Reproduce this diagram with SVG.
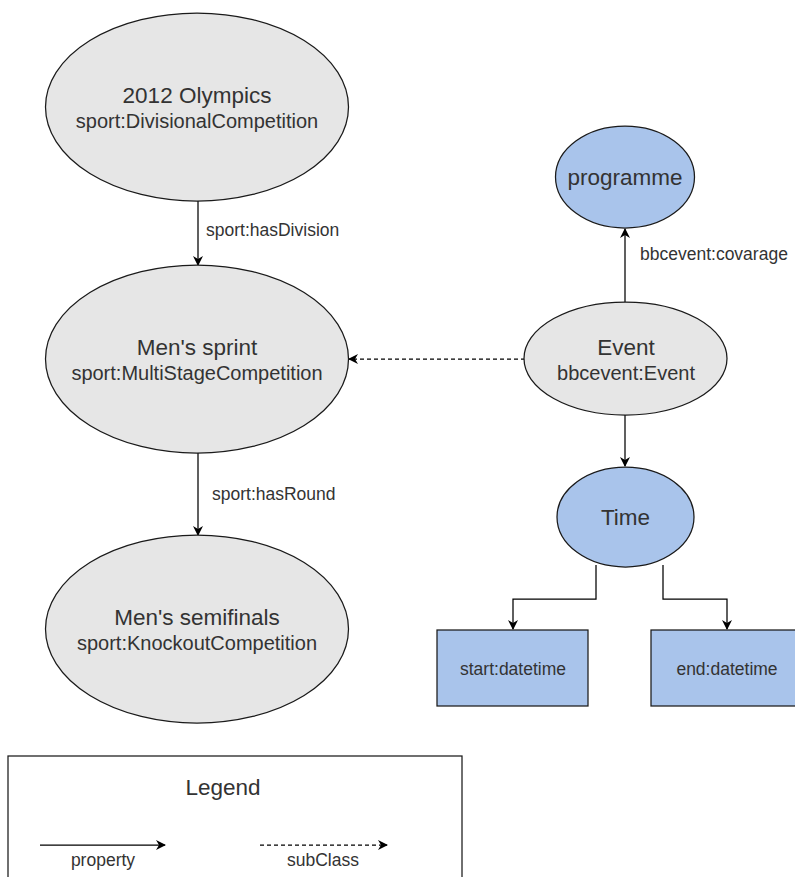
<svg xmlns="http://www.w3.org/2000/svg" width="795" height="877" viewBox="0 0 795 877">
<style>
.g{fill:#e6e6e6;stroke:#1a1a1a;stroke-width:1.25}
.b{fill:#a9c4eb;stroke:#1a1a1a;stroke-width:1.25}
.t{font-family:"Liberation Sans",Arial,sans-serif;fill:#333;text-anchor:middle}
.l{font-size:22.5px}
.s{font-size:20px}
.e{font-family:"Liberation Sans",Arial,sans-serif;fill:#333;font-size:17.5px}
.c{fill:none;stroke:#000;stroke-width:1.25}
.d{stroke-dasharray:4 3}
</style>
<defs>
<marker id="a" viewBox="0 0 10 10" refX="9" refY="5" markerWidth="10" markerHeight="10" markerUnits="userSpaceOnUse" orient="auto">
<path d="M0,0 L10,5 L0,10 L3,5 Z" fill="#000"/>
</marker>
</defs>
<rect width="795" height="877" fill="#fff"/>
<g id="connectors">
<line class="c" x1="198" y1="201" x2="198" y2="265" marker-end="url(#a)"/>
<line class="c" x1="198" y1="453" x2="198" y2="535" marker-end="url(#a)"/>
<line class="c d" x1="525" y1="359" x2="349" y2="359" marker-end="url(#a)"/>
<line class="c" x1="625" y1="302" x2="625" y2="229" marker-end="url(#a)"/>
<line class="c" x1="625" y1="415" x2="625" y2="466" marker-end="url(#a)"/>
<polyline class="c" points="596,565 596,599 513,599 513,629" marker-end="url(#a)"/>
<polyline class="c" points="663,565 663,599 727,599 727,629" marker-end="url(#a)"/>
<text class="e" x="206" y="236">sport:hasDivision</text>
<text class="e" x="212" y="500">sport:hasRound</text>
<text class="e" x="640" y="260">bbcevent:covarage</text>
</g>
<g id="olympics">
<ellipse class="g" cx="197" cy="107" rx="151.5" ry="94"/>
<text class="t l" x="197" y="103">2012 Olympics</text>
<text class="t s" x="197" y="128">sport:DivisionalCompetition</text>
</g>
<g id="sprint">
<ellipse class="g" cx="197" cy="359" rx="151.5" ry="94"/>
<text class="t l" x="197" y="355">Men's sprint</text>
<text class="t s" x="197" y="380">sport:MultiStageCompetition</text>
</g>
<g id="semifinals">
<ellipse class="g" cx="197" cy="629" rx="151.5" ry="94"/>
<text class="t l" x="197" y="625">Men's semifinals</text>
<text class="t s" x="197" y="650">sport:KnockoutCompetition</text>
</g>
<g id="programme">
<ellipse class="b" cx="625" cy="177" rx="69.5" ry="51"/>
<text class="t l" x="625" y="185">programme</text>
</g>
<g id="event">
<ellipse class="g" cx="625.5" cy="358.5" rx="101.5" ry="56.5"/>
<text class="t l" x="626" y="355">Event</text>
<text class="t s" x="626" y="380">bbcevent:Event</text>
</g>
<g id="time">
<ellipse class="b" cx="625.5" cy="517" rx="68.5" ry="50"/>
<text class="t l" x="625.5" y="525">Time</text>
</g>
<g id="start">
<rect class="b" x="437" y="630" width="151" height="76"/>
<text class="e" x="513" y="675" text-anchor="middle">start:datetime</text>
</g>
<g id="end">
<rect class="b" x="651" y="630" width="151" height="76"/>
<text class="e" x="727" y="675" text-anchor="middle">end:datetime</text>
</g>
<g id="legend">
<rect x="8" y="756" width="454" height="140" fill="#fff" stroke="#1a1a1a" stroke-width="1.25"/>
<text class="t l" x="223" y="795">Legend</text>
<line class="c" x1="40" y1="845" x2="165" y2="845" marker-end="url(#a)"/>
<line class="c d" x1="260" y1="845" x2="387" y2="845" marker-end="url(#a)"/>
<text class="e" x="103" y="866" text-anchor="middle">property</text>
<text class="e" x="323" y="866" text-anchor="middle">subClass</text>
</g>
</svg>
